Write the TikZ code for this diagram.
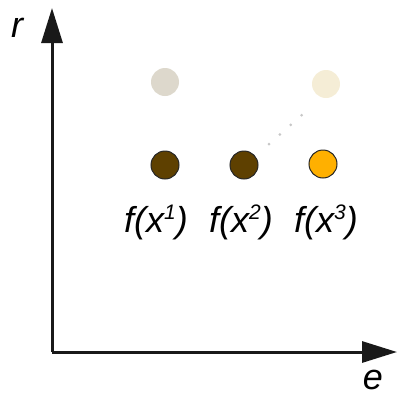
\documentclass[tikz,border=0pt]{standalone}
\usepackage{fontspec}
\setmainfont{Liberation Sans}
\usetikzlibrary{arrows.meta}
\definecolor{ghost}{HTML}{DDD8CC}
\definecolor{cream}{HTML}{F5EDD6}
\definecolor{dbrown}{HTML}{5E4000}
\definecolor{amber}{HTML}{FFB000}
\newcommand{\supx}[1]{\raisebox{13pt}{\fontsize{21}{22}\selectfont #1}}
\begin{document}
\begin{tikzpicture}[x=1pt,y=-1pt,
  axis/.style={line width=3pt,draw=black!90,-{Triangle[length=35pt,width=21pt]}},
  pt/.style={circle,minimum size=28pt,inner sep=0pt,draw=black!85,line width=1pt},
  faint/.style={circle,minimum size=28pt,inner sep=0pt},
  lab/.style={font=\fontsize{36}{40}\selectfont\itshape,inner sep=0pt},
  dots/.style={draw=black!22,line width=3pt,line cap=round,dash pattern=on 0pt off 14.5pt}]
\useasboundingbox (0,0) rectangle (397,397);
\coordinate (o) at (52,352);
\coordinate (ytip) at (52,8);
\coordinate (xtip) at (397,352);
\draw[axis] (o) -- (ytip);
\draw[axis] (o) -- (xtip);
\node[lab,anchor=base] (rl) at (17,37) {r};
\node[lab,anchor=base] (el) at (373,389) {e};
\node[faint,fill=ghost] (g1) at (165,82) {};
\node[faint,fill=cream] (g3) at (326,84) {};
\node[pt,fill=dbrown] (p1) at (165,165) {};
\node[pt,fill=dbrown] (p2) at (244,165) {};
\node[pt,fill=amber] (p3) at (323,164) {};
\coordinate (d0) at (269,144);
\coordinate (d1) at (312,106);
\draw[dots] (d0) -- (d1);
\node[lab,anchor=base] (f1) at (156,232) {f(x\supx{1})};
\node[lab,anchor=base] (f2) at (241,232) {f(x\supx{2})};
\node[lab,anchor=base] (f3) at (326,232) {f(x\supx{3})};
\end{tikzpicture}
\end{document}
